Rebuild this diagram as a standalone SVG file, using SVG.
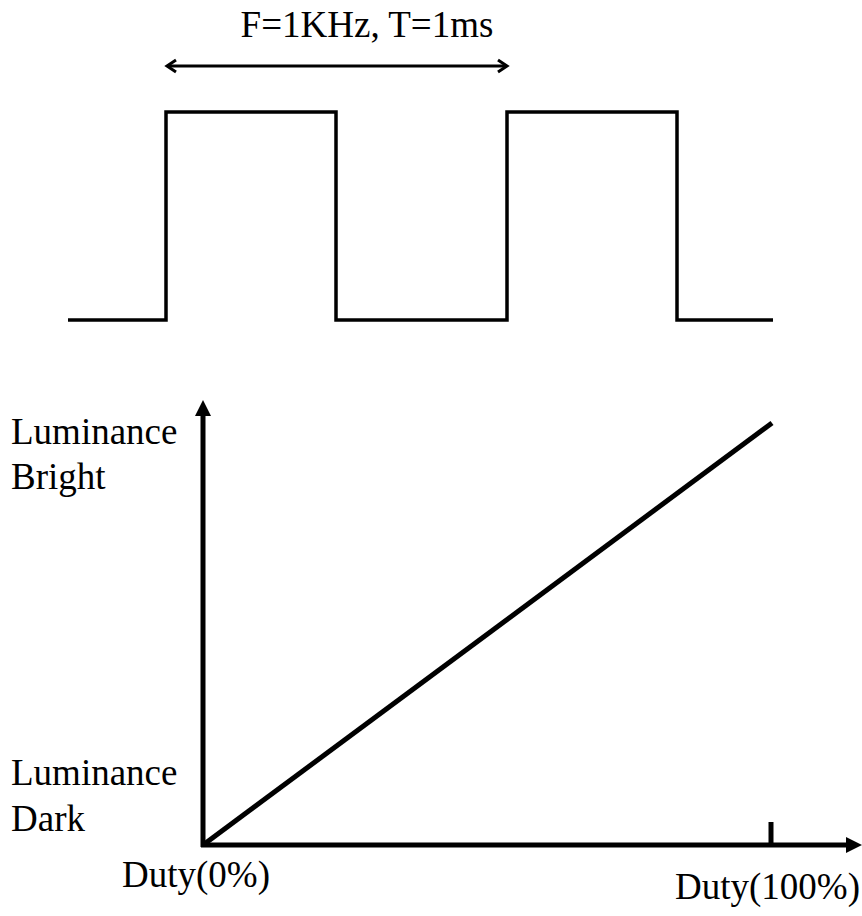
<svg xmlns="http://www.w3.org/2000/svg" width="862" height="916" viewBox="0 0 862 916">
<style>
.w{fill:none;stroke:#000;stroke-width:3.5;stroke-linejoin:miter}
.ax{fill:none;stroke:#000;stroke-width:5}
.oh{fill:none;stroke:#000;stroke-width:3}
</style>
<defs>
<path id="openhead" d="M-9,-6 L0,0 L-9,6"/>
<path id="solidhead" d="M-16,-8 L0,0 L-16,8 Z" fill="#000"/>
</defs>
<g id="waveform">
<path class="w" d="M68,320 H166 V112 H336 V320 H507 V112 H677 V320 H773"/>
</g>
<g id="period">
<line x1="168" y1="66" x2="506" y2="66" stroke="#000" stroke-width="3"/>
<use href="#openhead" class="oh" transform="translate(507,66)"/>
<use href="#openhead" class="oh" transform="translate(167,66) rotate(180)"/>
<text font-family="Liberation Serif" font-size="37" x="367" y="37" text-anchor="middle">F=1KHz, T=1ms</text>
</g>
<g id="connectors">
<line class="ax" x1="203" y1="847" x2="203" y2="412"/>
<use href="#solidhead" transform="translate(203,400) rotate(-90)"/>
<line class="ax" x1="201" y1="845" x2="850" y2="845"/>
<use href="#solidhead" transform="translate(862,845)"/>
<line class="ax" x1="771" y1="822" x2="771" y2="845"/>
<line class="ax" x1="203" y1="845" x2="772" y2="423"/>
</g>
<g id="labels">
<text font-family="Liberation Serif" font-size="37" x="11" y="444">Luminance</text>
<text font-family="Liberation Serif" font-size="37" x="11" y="489">Bright</text>
<text font-family="Liberation Serif" font-size="37" x="11" y="785">Luminance</text>
<text font-family="Liberation Serif" font-size="37" x="11" y="831">Dark</text>
<text font-family="Liberation Serif" font-size="37" x="122" y="887">Duty(0%)</text>
<text font-family="Liberation Serif" font-size="37" x="860" y="899" text-anchor="end">Duty(100%)</text>
</g>
</svg>
